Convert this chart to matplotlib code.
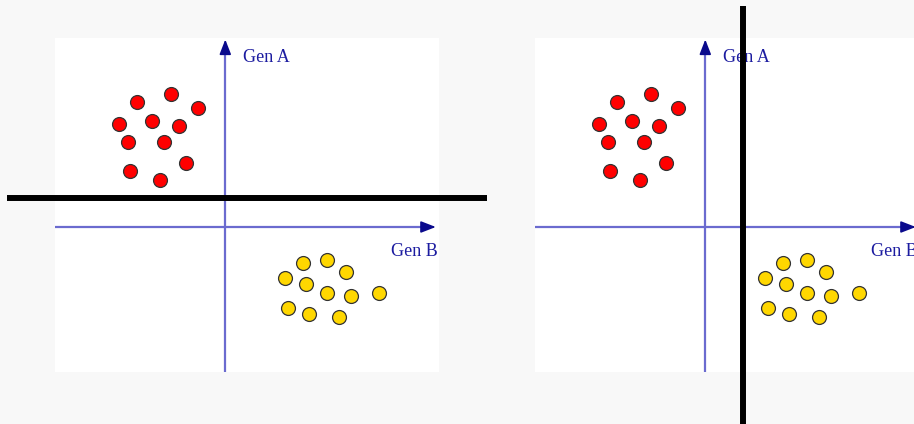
import matplotlib
matplotlib.use("Agg")
import matplotlib.pyplot as plt

# Gene expression values (Gen B on x, Gen A on y)
red_genB = [-5.4, -8.8, -2.7, -10.6, -7.3, -4.6, -9.7, -6.1, -3.9, -9.5, -6.5]
red_genA = [13.3, 12.5, 11.9, 10.3, 10.6, 10.1, 8.5, 8.5, 6.4, 5.6, 4.7]
yel_genB = [7.8, 10.2, 12.1, 6.0, 8.1, 10.2, 12.6, 15.4, 6.3, 8.4, 11.4]
yel_genA = [-3.6, -3.3, -4.5, -5.1, -5.7, -6.6, -6.9, -6.6, -8.1, -8.7, -9.0]
axis_labels = ["Gen A", "Gen B"]
# separating lines: horizontal (Gen A = const) in panel 1, vertical (Gen B = const) in panel 2
split_genA = 2.9
split_genB = 3.8

W, H = 914, 424
fig = plt.figure(figsize=(W / 100, H / 100), dpi=100)
fig.patch.set_facecolor("#f8f8f8")

XL = (-17.03, 21.37)
YL = (-14.5, 18.9)
panel_left_px = [55, 535]
panel_w_px, panel_top_px, panel_bot_px = 384, 38, 372

axis_col = "#6b6bcf"
head_col = "#0a0a8c"
text_col = "#1c1ca0"

for i, lpx in enumerate(panel_left_px):
    ax = fig.add_axes([lpx / W, 1 - panel_bot_px / H, panel_w_px / W,
                       (panel_bot_px - panel_top_px) / H])
    ax.set_xlim(*XL)
    ax.set_ylim(*YL)
    ax.set_facecolor("white")
    for s in ax.spines.values():
        s.set_visible(False)
    ax.set_xticks([])
    ax.set_yticks([])

    # axes lines
    ax.plot([0, 0], [-14.4, 17.9], color=axis_col, lw=1.6, zorder=1)
    ax.plot([-16.9, 20.2], [0, 0], color=axis_col, lw=1.6, zorder=1)
    ax.annotate("", xy=(0, 18.75), xytext=(0, 17.6),
                arrowprops=dict(arrowstyle="-|>,head_length=0.9,head_width=0.35",
                                color=head_col, lw=1.2, shrinkA=0, shrinkB=0))
    ax.annotate("", xy=(21.05, 0), xytext=(19.8, 0),
                arrowprops=dict(arrowstyle="-|>,head_length=0.9,head_width=0.35",
                                color=head_col, lw=1.2, shrinkA=0, shrinkB=0))
    ax.text(1.75, 16.9, axis_labels[0], color=text_col, fontsize=13,
            family="Liberation Serif", va="center", ha="left", clip_on=True)
    ax.text(16.6, -2.45, axis_labels[1], color=text_col, fontsize=13,
            family="Liberation Serif", va="center", ha="left", clip_on=True)

    ax.scatter(red_genB, red_genA, s=100, c="#ff0000", edgecolors="#333333",
               linewidths=0.9, zorder=3)
    ax.scatter(yel_genB, yel_genA, s=100, c="#ffd700", edgecolors="#333333",
               linewidths=0.9, zorder=3)

    if i == 0:
        ax.plot([-21.83, 26.17], [split_genA, split_genA], color="black",
                lw=4.3, solid_capstyle="butt", clip_on=False, zorder=5)
    else:
        ax.plot([split_genB, split_genB], [22.1, -20.0], color="black",
                lw=4.3, solid_capstyle="butt", clip_on=False, zorder=5)

fig.savefig("out.png", dpi=100, facecolor=fig.get_facecolor())
